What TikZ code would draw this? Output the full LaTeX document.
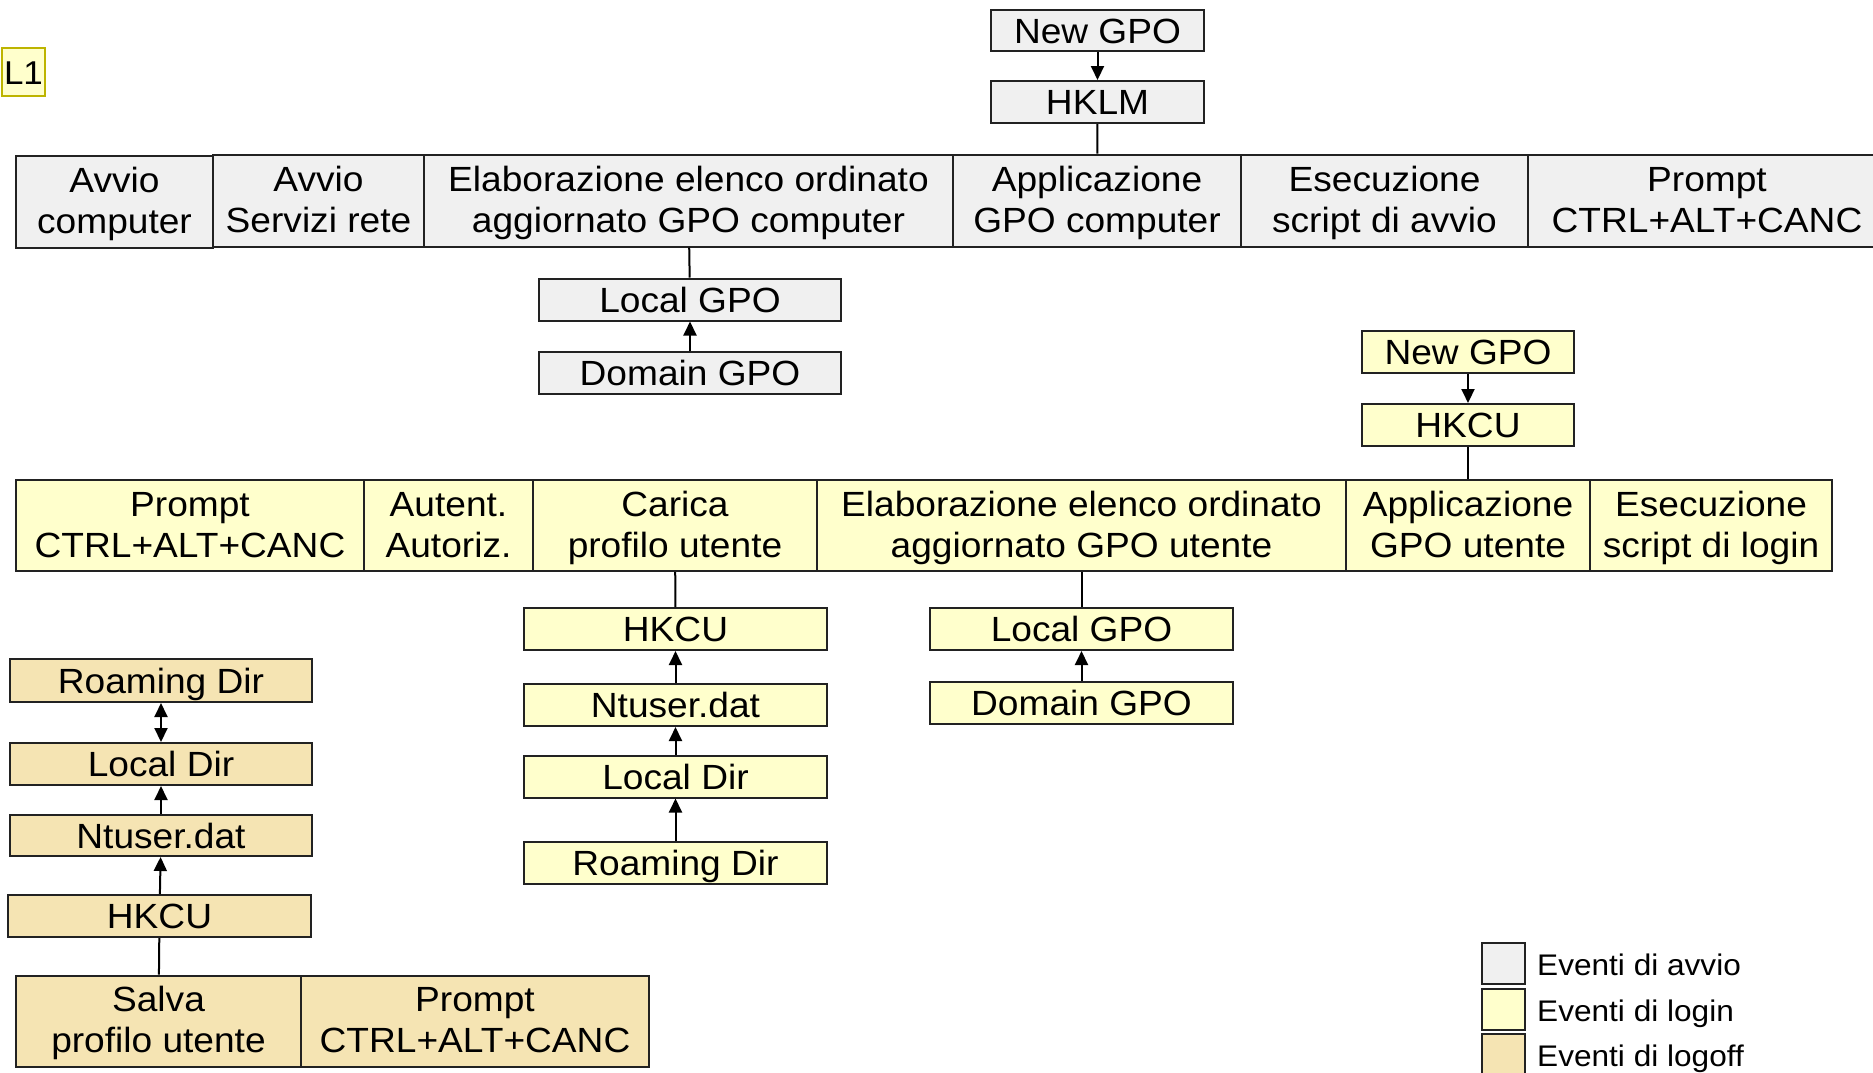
\documentclass[tikz,border=0pt]{standalone}
\usepackage{fontspec}
\setmainfont{Liberation Sans}[FakeStretch=1.06]
\usetikzlibrary{arrows.meta}
\definecolor{gfill}{HTML}{F0F0F0}
\definecolor{yfill}{HTML}{FFFFCC}
\definecolor{tfill}{HTML}{F5E4B3}
\definecolor{bord}{HTML}{222222}
\definecolor{lbord}{HTML}{BDB400}
\newcommand{\twol}[2]{\rule{0pt}{31pt}#1\\#2\rule[-9pt]{0pt}{0pt}}
\tikzset{
  base/.style={draw=bord, line width=2pt, inner sep=0pt, align=center,
    font=\fontsize{35}{41}\selectfont},
  one/.style={text height=25pt, text depth=0pt},
  gbox/.style={base, fill=gfill},
  ybox/.style={base, fill=yfill},
  tbox/.style={base, fill=tfill},
  conn/.style={draw=black, line width=2pt},
  arr/.style={conn, -{Triangle[length=14pt,width=13pt]}},
  arrboth/.style={conn, {Triangle[length=14pt,width=13pt]}-{Triangle[length=14pt,width=13pt]}},
  legsq/.style={draw=bord, line width=2pt, minimum width=43pt, minimum height=41pt, inner sep=0pt},
  legtxt/.style={anchor=base west, inner sep=0pt, font=\fontsize{29.8}{36}\selectfont}
}
\begin{document}
\begin{tikzpicture}[x=1pt,y=-1pt]
\useasboundingbox (0,0) rectangle (1873,1072);
\clip (0,0) rectangle (1873,1072);
% L1
\node[draw=lbord, fill=yfill, line width=1.5pt, minimum width=43pt, minimum height=48pt, inner sep=0pt, text height=24pt, text depth=0pt, font=\fontsize{33}{40}\selectfont] (l1) at (23.5,72) {L1};
% startup
\node[gbox, one, minimum width=213, minimum height=41] (ngpo1) at (1097.5,30.5) {New GPO};
\node[gbox, one, minimum width=213, minimum height=42] (hklm) at (1097.5,102) {HKLM};
\node[gbox, minimum width=197, minimum height=92] (avc) at (114.5,201.5) {\twol{Avvio}{computer}};
\node[gbox, minimum width=211, minimum height=92] (asr) at (318.5,200.5) {\twol{Avvio}{Servizi rete}};
\node[gbox, minimum width=529, minimum height=92] (elc) at (688.5,200.5) {\twol{Elaborazione elenco ordinato}{aggiornato GPO computer}};
\node[gbox, minimum width=288, minimum height=92] (agc) at (1097,200.5) {\twol{Applicazione}{GPO computer}};
\node[gbox, minimum width=287, minimum height=92] (esa) at (1384.5,200.5) {\twol{Esecuzione}{script di avvio}};
\node[gbox, minimum width=358, minimum height=92] (pr1) at (1707,200.5) {\twol{Prompt}{CTRL+ALT+CANC}};
\node[gbox, one, minimum width=302, minimum height=42] (lg1) at (690,299.5) {Local GPO};
\node[gbox, one, minimum width=302, minimum height=42] (dg1) at (690,373) {Domain GPO};
\draw[arr] (ngpo1) -- (hklm);
\draw[conn] (hklm) -- (agc);
\draw[conn] (elc) -- (lg1);
\draw[arr] (dg1) -- (lg1);
% login
\node[ybox, one, minimum width=212, minimum height=42] (ngpo2) at (1468,352) {New GPO};
\node[ybox, one, minimum width=212, minimum height=42] (hkcu2) at (1468,425) {HKCU};
\node[ybox, minimum width=348, minimum height=91] (pr2) at (190,525.5) {\twol{Prompt}{CTRL+ALT+CANC}};
\node[ybox, minimum width=169, minimum height=91] (aut) at (448.5,525.5) {\twol{Autent.}{Autoriz.}};
\node[ybox, minimum width=284, minimum height=91] (car) at (675,525.5) {\twol{Carica}{profilo utente}};
\node[ybox, minimum width=529, minimum height=91] (elu) at (1081.5,525.5) {\twol{Elaborazione elenco ordinato}{aggiornato GPO utente}};
\node[ybox, minimum width=244, minimum height=91] (agu) at (1468,525.5) {\twol{Applicazione}{GPO utente}};
\node[ybox, minimum width=242, minimum height=91] (esl) at (1711,525.5) {\twol{Esecuzione}{script di login}};
\node[ybox, one, minimum width=303, minimum height=42] (hkcu3) at (675.5,629) {HKCU};
\node[ybox, one, minimum width=303, minimum height=42] (ntu3) at (675.5,705) {Ntuser.dat};
\node[ybox, one, minimum width=303, minimum height=42] (ld3) at (675.5,776.5) {Local Dir};
\node[ybox, one, minimum width=303, minimum height=42] (rd3) at (675.5,862.5) {Roaming Dir};
\node[ybox, one, minimum width=303, minimum height=42] (lg2) at (1081.5,629) {Local GPO};
\node[ybox, one, minimum width=303, minimum height=42] (dg2) at (1081.5,702.5) {Domain GPO};
\draw[arr] (ngpo2) -- (hkcu2);
\draw[conn] (hkcu2) -- (agu);
\draw[conn] (car) -- (hkcu3);
\draw[arr] (ntu3) -- (hkcu3);
\draw[arr] (ld3) -- (ntu3);
\draw[arr] (rd3) -- (ld3);
\draw[conn] (elu) -- (lg2);
\draw[arr] (dg2) -- (lg2);
% logoff
\node[tbox, one, minimum width=302, minimum height=43] (rd4) at (161,680.5) {Roaming Dir};
\node[tbox, one, minimum width=302, minimum height=42] (ld4) at (161,764) {Local Dir};
\node[tbox, one, minimum width=302, minimum height=41] (ntu4) at (161,835.5) {Ntuser.dat};
\node[tbox, one, minimum width=303, minimum height=42] (hkcu4) at (159.5,916) {HKCU};
\node[tbox, minimum width=285, minimum height=91] (sal) at (158.5,1021) {\twol{Salva}{profilo utente}};
\node[tbox, minimum width=348, minimum height=91] (pr3) at (475,1021) {\twol{Prompt}{CTRL+ALT+CANC}};
\draw[arrboth] (rd4) -- (ld4);
\draw[arr] (ntu4) -- (ld4);
\draw[arr] (hkcu4) -- (ntu4);
\draw[conn] (hkcu4) -- (sal);
% legend
\node[legsq, fill=gfill] (lgA) at (1503.5,963.5) {};
\node[legsq, fill=yfill] (lgB) at (1503.5,1009) {};
\node[legsq, fill=tfill] (lgC) at (1503.5,1054.5) {};
\node[legtxt] (ltA) at (1537,975) {Eventi di avvio};
\node[legtxt] (ltB) at (1537,1021) {Eventi di login};
\node[legtxt] (ltC) at (1537,1066.5) {Eventi di logoff};
\end{tikzpicture}
\end{document}
